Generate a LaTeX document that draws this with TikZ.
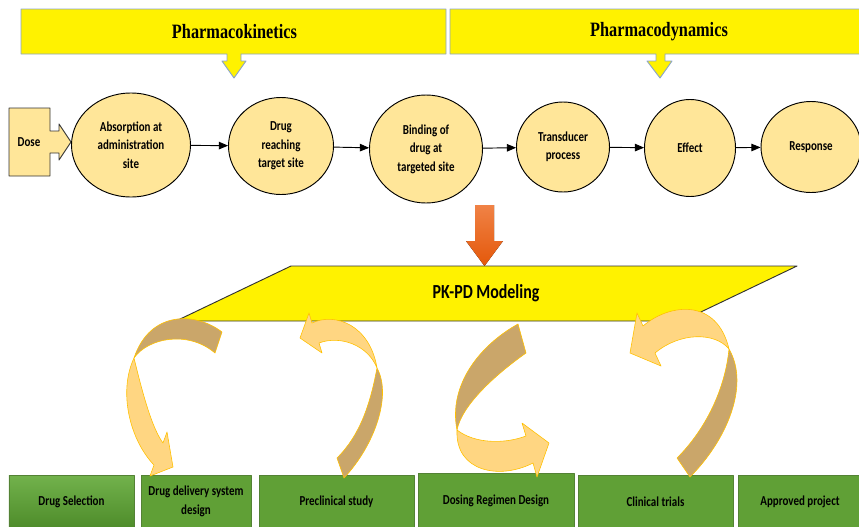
\documentclass[tikz,border=0pt]{standalone}
\usepackage{fontspec}
\usepackage{xcolor}
\usepackage{tikz}
\usetikzlibrary{arrows,shapes.geometric}
\newfontfamily\calfont{Carlito}[FakeStretch=0.8]
\newfontfamily\headfont{Liberation Serif}[FakeStretch=0.8]
\definecolor{bannerEdge}{RGB}{140,165,200}
\definecolor{stageFill}{RGB}{255,230,153}
\definecolor{boxGreen}{RGB}{96,160,54}
\definecolor{boxEdge}{RGB}{84,130,53}
\definecolor{ribLight}{RGB}{255,214,130}
\definecolor{ribDark}{RGB}{202,166,106}
\definecolor{ribEdge}{RGB}{255,192,0}
\definecolor{pkTop}{RGB}{240,130,70}
\definecolor{pkBot}{RGB}{228,88,10}
\begin{document}
\begin{tikzpicture}[line cap=round,line join=round,>=triangle 45,x=0.03cm,y=-0.03cm,
	stage/.style={ellipse,draw=black,line width=0.8pt,fill=stageFill,inner sep=0pt,align=center,font=\calfont\bfseries\fontsize{11.7}{15.7}\selectfont},
	task/.style={rectangle,draw=boxEdge,line width=0.5pt,fill=boxGreen,inner sep=0pt,align=center,minimum height=1.59cm,font=\calfont\bfseries\fontsize{11.7}{16}\selectfont},
	banner/.style={fill=yellow,draw=bannerEdge,line width=0.8pt},
	headline/.style={font=\headfont\bfseries\fontsize{17.4}{20}\selectfont},
	ribbon front/.style={fill=ribLight,draw=ribEdge,line width=0.5pt},
	ribbon back/.style={fill=ribDark,draw=ribEdge,line width=0.5pt}]
		\clip(0,0) rectangle (859,527);
		% banners
		\draw [banner] (21,9) -- (446,9) -- (446,54) -- (241,54) -- (241,61) -- (246,61) -- (234,78) -- (222,61) -- (227,61) -- (227,54) -- (21,54) -- cycle;
		\draw [banner] (450,9) -- (880,9) -- (880,54) -- (665,54) -- (665,61) -- (672,61) -- (660,78) -- (647,61) -- (656,61) -- (656,54) -- (450,54) -- cycle;
		\node [headline] (pk) at (234.5,32) {Pharmacokinetics};
		\node [headline] (pd) at (659,32) {Pharmacodynamics};
		% dose
		\draw [fill=stageFill,draw=black!80,line width=0.8pt] (9,108) -- (50,108) -- (50,131) -- (59,131) -- (59,124) -- (71,142) -- (59,160) -- (59,153) -- (50,153) -- (50,176) -- (9,176) -- cycle;
		\node [font=\calfont\bfseries\fontsize{11.7}{15.7}\selectfont] (dose) at (29,142) {Dose};
		% stages
		\node [stage,minimum width=3.57cm,minimum height=3.12cm] (absorb) at (131,145) {Absorption at\\administration\\site};
		\node [stage,minimum width=3.15cm,minimum height=2.91cm] (reach) at (281,146) {Drug\\reaching\\target site};
		\node [stage,minimum width=3.39cm,minimum height=3.24cm] (bind) at (426,149) {Binding of\\drug at\\targeted site};
		\node [stage,minimum width=2.79cm,minimum height=2.70cm] (transd) at (563,147) {Transducer\\process};
		\node [stage,minimum width=2.73cm,minimum height=2.91cm] (effect) at (690,148) {Effect};
		\node [stage,minimum width=3.00cm,minimum height=2.73cm] (resp) at (811,147) {Response};
		\draw [->,line width=0.8pt] (absorb) -- (reach);
		\draw [->,line width=0.8pt] (reach) -- (bind);
		\draw [->,line width=0.8pt] (bind) -- (transd);
		\draw [->,line width=0.8pt] (transd) -- (effect);
		\draw [->,line width=0.8pt] (effect) -- (resp);
		% block arrow and modeling
		\fill [top color=pkTop,bottom color=pkBot] (475,205) -- (494,205) -- (494,241) -- (503,241) -- (484.5,266) -- (466,241) -- (475,241) -- cycle;
		\draw [fill=yellow,draw=black!80,line width=0.8pt] (291,266) -- (797,266) -- (682,321) -- (176,321) -- cycle;
		\node [font=\calfont\bfseries\fontsize{17}{20}\selectfont] (pkpd) at (486,293) {PK-PD Modeling};
		% applications
		\node [task,minimum width=3.75cm,top color={rgb,255:red,114;green,178;blue,76},bottom color={rgb,255:red,78;green,140;blue,42}] (sel) at (71.5,501.5) {Drug Selection};
		\node [task,minimum width=3.30cm] (ddsd) at (196,501.5) {Drug delivery system\\design};
		\node [task,minimum width=4.65cm] (precl) at (336.5,501.5) {Preclinical study};
		\node [task,minimum width=4.68cm,minimum height=1.65cm] (dosing) at (496,500.5) {Dosing Regimen Design};
		\node [task,minimum width=4.65cm] (clin) at (655.5,501.5) {Clinical trials};
		\node [task,minimum width=3.72cm] (appr) at (800,501.5) {Approved project};
		% curved arrows
		\draw [ribbon back] (222,332) .. controls (196,312) and (150,310) .. (134,358) .. controls (148,338) and (188,330) .. (215,353) -- cycle;
		\draw [ribbon front] (134,358) .. controls (118,392) and (130,440) .. (154,465) -- (150,476) -- (173,467) -- (167,432) -- (163,443) .. controls (152,428) and (143,395) .. (134,358) -- cycle;
		\draw [ribbon front] (312,323) .. controls (335,312) and (370,325) .. (377,368) .. controls (368,345) and (340,335) .. (319,343) -- (322,353) -- (300,338) -- (309,313) -- cycle;
		\draw [ribbon back] (377,368) .. controls (392,395) and (375,445) .. (344,478) -- (337,458) .. controls (360,435) and (370,405) .. (377,368) -- cycle;
		\draw [ribbon back] (518,324) .. controls (480,345) and (448,385) .. (457,430) .. controls (462,405) and (495,375) .. (526,353) -- cycle;
		\draw [ribbon front] (457,430) .. controls (455,472) and (500,480) .. (533,463) -- (537,477) -- (549,443) -- (522,423) -- (526,436) .. controls (505,444) and (475,444) .. (457,430) -- cycle;
		\draw [ribbon front] (643,326) .. controls (670,303) and (717,298) .. (729,349) .. controls (715,332) and (680,332) .. (655,353) -- (661,366) -- (630,353) -- (637,313) -- cycle;
		\draw [ribbon back] (729,349) .. controls (750,385) and (727,440) .. (690,477) -- (677,458) .. controls (705,430) and (725,390) .. (729,349) -- cycle;
	\end{tikzpicture}
\end{document}
